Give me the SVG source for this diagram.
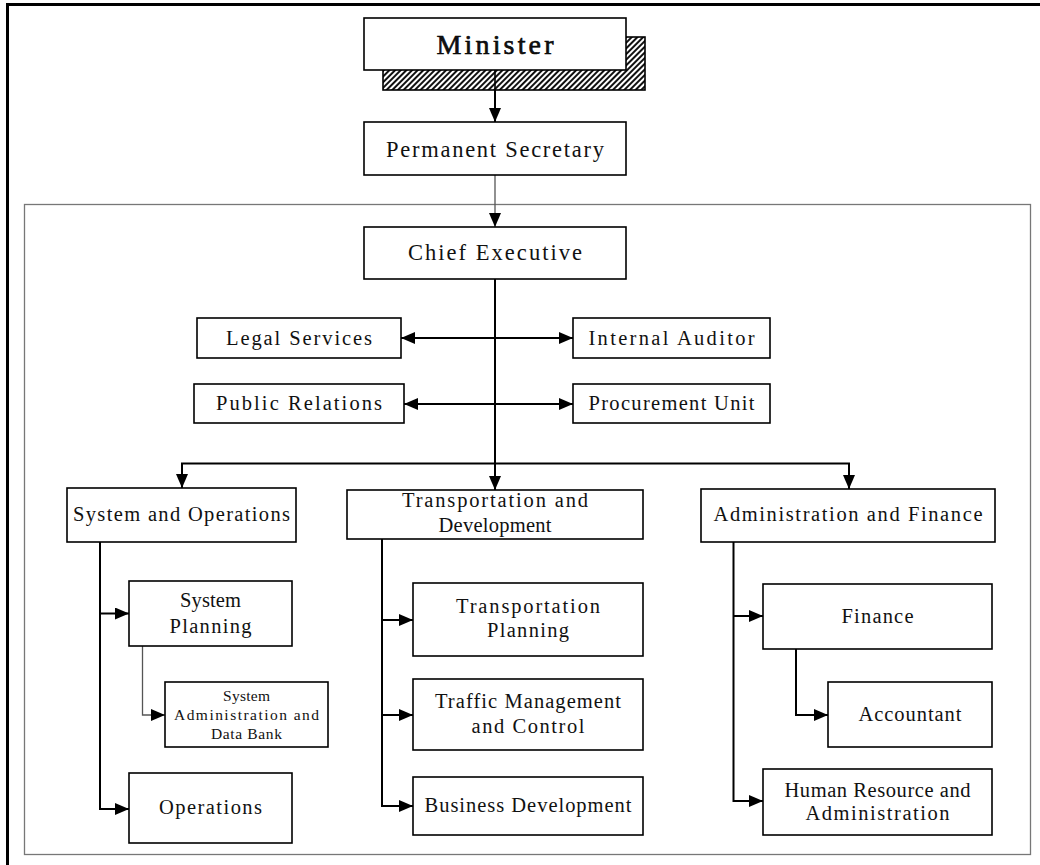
<svg xmlns="http://www.w3.org/2000/svg" width="1040" height="865" viewBox="0 0 1040 865">
  <style>
    .box { fill: #fff; stroke: #000; stroke-width: 1.6; }
    .t { font-family: "Liberation Serif", "DejaVu Serif", serif; font-size: 20.5px; fill: #111; text-anchor: middle; }
    .big { font-size: 22.5px; }
    .top { font-size: 28px; stroke: #000; stroke-width: 0.6; }
    .small { font-size: 15.5px; }
    .ln { fill: none; stroke: #000; stroke-width: 2; }
    .thin { fill: none; stroke: #555; stroke-width: 1.3; }
  </style>
  <defs>
    <marker id="arr" viewBox="0 0 14 12" refX="14" refY="6" markerWidth="14" markerHeight="12" markerUnits="userSpaceOnUse" orient="auto-start-reverse">
      <path d="M0,0 L14,6 L0,12 z" fill="#000"/>
    </marker>
    <pattern id="hatch" width="4" height="4" patternUnits="userSpaceOnUse" patternTransform="rotate(45)">
      <rect width="4" height="4" fill="#fff"/>
      <rect width="2" height="4" fill="#111"/>
    </pattern>
  </defs>

  <rect width="1040" height="865" fill="#fff"/>

  <!-- page frame -->
  <path d="M7.5,865 V4.5 H1040" fill="none" stroke="#000" stroke-width="3"/>
  <!-- agency frame -->
  <rect x="24.5" y="204.5" width="1006" height="650" fill="none" stroke="#777" stroke-width="1.3"/>

  <!-- connectors -->
  <g id="connectors">
    <line class="ln" x1="495" y1="70" x2="495" y2="122" stroke-width="1.6" marker-end="url(#arr)"/>
    <line class="thin" x1="495" y1="175" x2="495" y2="227" marker-end="url(#arr)"/>
    <line class="ln" x1="495" y1="279" x2="495" y2="490" marker-end="url(#arr)"/>
    <line class="ln" x1="401" y1="338" x2="573" y2="338" marker-start="url(#arr)" marker-end="url(#arr)"/>
    <line class="ln" x1="404" y1="404" x2="573" y2="404" marker-start="url(#arr)" marker-end="url(#arr)"/>
    <path class="ln" d="M495,463.5 H182 V488" marker-end="url(#arr)"/>
    <path class="ln" d="M495,463.5 H849 V489" marker-end="url(#arr)"/>
    <!-- System and Operations branch -->
    <path class="ln" d="M100,542 V809 H129" marker-end="url(#arr)"/>
    <path class="ln" d="M100,613.5 H129" marker-end="url(#arr)"/>
    <path class="thin" d="M142.5,646 V715 H165" marker-end="url(#arr)"/>
    <!-- Transportation and Development branch -->
    <path class="ln" d="M382,539 V806 H413" marker-end="url(#arr)"/>
    <path class="ln" d="M382,620 H413" marker-end="url(#arr)"/>
    <path class="ln" d="M382,715 H413" marker-end="url(#arr)"/>
    <!-- Administration and Finance branch -->
    <path class="ln" d="M733.5,542 V801 H763" marker-end="url(#arr)"/>
    <path class="ln" d="M733.5,616 H763" marker-end="url(#arr)"/>
    <path class="ln" d="M796,649 V715 H828" marker-end="url(#arr)"/>
  </g>

  <g id="minister">
    <rect x="383" y="37" width="262" height="53" fill="url(#hatch)" stroke="#000" stroke-width="1.6"/>
    <line x1="495" y1="70" x2="495" y2="90" stroke="#000" stroke-width="1.6"/>
    <rect class="box" x="364" y="18" width="262" height="52"/>
    <text class="t top" x="495" y="54" textLength="117">Minister</text>
  </g>

  <g id="permanent-secretary">
    <rect class="box" x="364" y="122" width="262" height="53"/>
    <text class="t big" x="495" y="157" textLength="218">Permanent Secretary</text>
  </g>

  <g id="chief-executive">
    <rect class="box" x="364" y="227" width="262" height="52"/>
    <text class="t big" x="495" y="260" textLength="174">Chief Executive</text>
  </g>

  <g id="legal-services">
    <rect class="box" x="197" y="318" width="204" height="40"/>
    <text class="t" x="299" y="345" textLength="146">Legal Services</text>
  </g>

  <g id="internal-auditor">
    <rect class="box" x="573" y="318" width="197" height="40"/>
    <text class="t" x="671.5" y="345" textLength="166">Internal Auditor</text>
  </g>

  <g id="public-relations">
    <rect class="box" x="194" y="384" width="210" height="39"/>
    <text class="t" x="299" y="410" textLength="166">Public Relations</text>
  </g>

  <g id="procurement-unit">
    <rect class="box" x="573" y="384" width="197" height="39"/>
    <text class="t" x="671.5" y="410" textLength="166">Procurement Unit</text>
  </g>

  <g id="system-operations">
    <rect class="box" x="67" y="488" width="229" height="54"/>
    <text class="t" x="181.5" y="521" textLength="217">System and Operations</text>
  </g>

  <g id="transportation-development">
    <rect class="box" x="347" y="490" width="296" height="49"/>
    <text class="t" x="495" y="507" textLength="186">Transportation and</text>
    <text class="t" x="495" y="532" textLength="113">Development</text>
  </g>

  <g id="administration-finance">
    <rect class="box" x="701" y="489" width="294" height="53"/>
    <text class="t" x="848" y="521" textLength="269">Administration and Finance</text>
  </g>

  <g id="system-planning">
    <rect class="box" x="129" y="581" width="163" height="65"/>
    <text class="t" x="210.5" y="607" textLength="61">System</text>
    <text class="t" x="210.5" y="633" textLength="82">Planning</text>
  </g>

  <g id="system-admin-data-bank">
    <rect class="box" x="165" y="682" width="163" height="65"/>
    <text class="t small" x="246.5" y="701" textLength="47">System</text>
    <text class="t small" x="246.5" y="720" textLength="145">Administration and</text>
    <text class="t small" x="246.5" y="739" textLength="71">Data Bank</text>
  </g>

  <g id="operations">
    <rect class="box" x="129" y="773" width="163" height="70"/>
    <text class="t" x="210.5" y="814" textLength="103">Operations</text>
  </g>

  <g id="transportation-planning">
    <rect class="box" x="413" y="583" width="230" height="73"/>
    <text class="t" x="528" y="613" textLength="144">Transportation</text>
    <text class="t" x="528" y="637" textLength="82">Planning</text>
  </g>

  <g id="traffic-management">
    <rect class="box" x="413" y="679" width="230" height="71"/>
    <text class="t" x="528" y="708" textLength="186">Traffic Management</text>
    <text class="t" x="528" y="733" textLength="113">and Control</text>
  </g>

  <g id="business-development">
    <rect class="box" x="413" y="777" width="230" height="58"/>
    <text class="t" x="528" y="812" textLength="207">Business Development</text>
  </g>

  <g id="finance">
    <rect class="box" x="763" y="584" width="229" height="65"/>
    <text class="t" x="877.5" y="623" textLength="72">Finance</text>
  </g>

  <g id="accountant">
    <rect class="box" x="828" y="682" width="164" height="65"/>
    <text class="t" x="910" y="721" textLength="103">Accountant</text>
  </g>

  <g id="human-resource">
    <rect class="box" x="763" y="769" width="229" height="66"/>
    <text class="t" x="877.5" y="797" textLength="186">Human Resource and</text>
    <text class="t" x="877.5" y="820" textLength="144">Administration</text>
  </g>
</svg>
